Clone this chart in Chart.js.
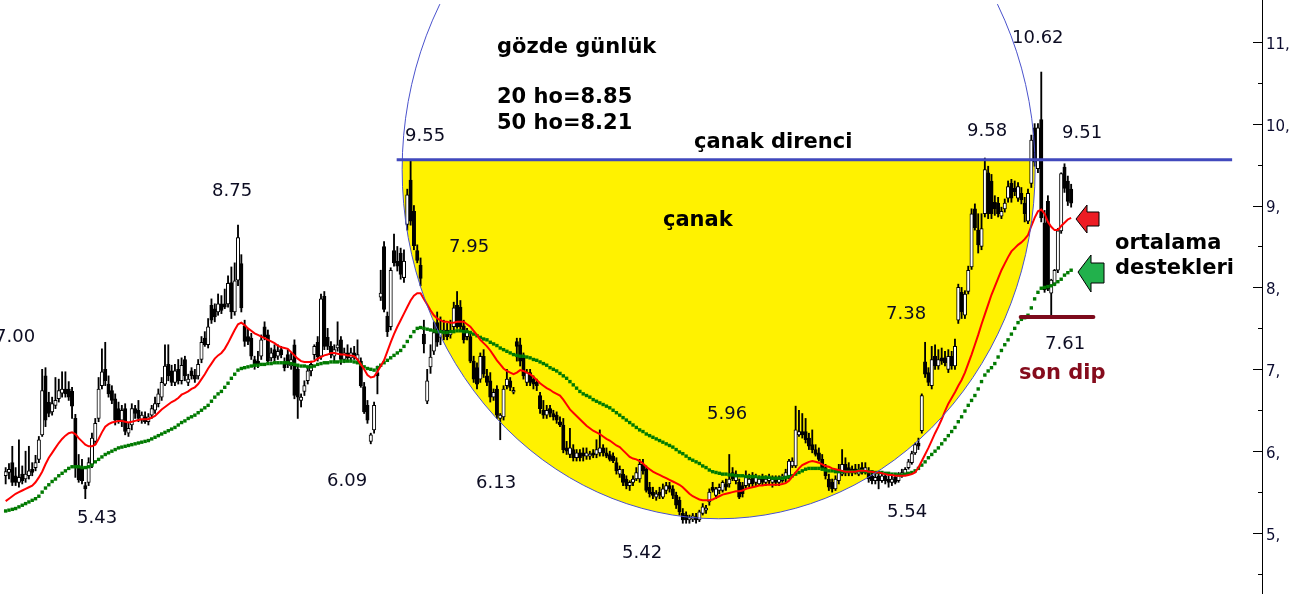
<!DOCTYPE html>
<html>
<head>
<meta charset="utf-8">
<title>gözde günlük</title>
<script src="https://cdn.jsdelivr.net/npm/chart.js"></script>
<style>
   html, body { margin: 0; padding: 0; background: #fff; overflow: hidden; }
   canvas { display: block; }
</style>
</head>
<body>
<canvas id="chart" width="1316" height="594"></canvas>
<script>
/*jshint browser: true, esversion: 6*/
/* global Chart */
'use strict';

// daily candles (oldest first)
const opens = [
   5.70,5.74,5.86,5.70,5.62,5.72,5.66,5.70,5.78,5.80, 5.90,6.20,6.92,6.60,6.48,6.56,6.64,6.71,6.76,6.76,
   6.73,6.40,5.82,5.80,5.58,5.62,5.84,6.12,6.40,6.80, 7.00,6.82,6.74,6.64,6.52,6.38,6.52,6.22,6.32,6.52,
   6.50,6.38,6.42,6.36,6.44,6.50,6.58,6.66,6.82,7.06, 6.98,6.84,7.00,6.86,7.12,6.84,6.98,6.93,6.92,7.12,
   7.38,7.30,7.78,7.74,7.70,7.80,7.80,7.80,8.06,7.70, 8.09,8.29,7.53,7.40,7.38,7.12,7.10,7.16,7.52,7.42,
   7.14,7.24,7.16,7.24,7.09,7.18,7.04,7.30,7.00,6.62, 6.73,6.86,6.98,7.18,7.33,7.16,7.89,7.39,7.28,7.16,
   7.26,7.36,7.12,7.20,7.14,7.20,7.12,7.10,6.79,6.56, 6.12,6.26,6.96,7.88,8.50,7.65,7.52,8.45,8.32,8.42,
   8.12,8.77,9.31,8.93,8.45,8.27,7.43,6.61,7.03,7.22, 7.57,7.39,7.45,7.48,7.42,7.52,7.78,7.76,7.53,7.40,
   7.40,7.10,7.02,6.88,7.16,6.92,6.86,6.66,6.76,6.40, 6.42,6.80,6.86,6.72,7.34,7.30,7.14,6.84,6.96,6.88,
   6.84,6.68,6.50,6.44,6.52,6.46,6.44,6.36,6.32,6.04, 5.96,6.02,5.92,5.98,5.98,5.94,5.94,5.98,5.96,5.98,
   6.04,5.98,5.96,5.94,5.86,5.72,5.72,5.66,5.58,5.62, 5.66,5.66,5.84,5.78,5.56,5.50,5.44,5.50,5.44,5.52,
   5.58,5.54,5.46,5.40,5.24,5.22,5.16,5.17,5.20,5.16, 5.24,5.28,5.38,5.56,5.46,5.52,5.52,5.60,5.60,5.74,
   5.64,5.62,5.58,5.58,5.60,5.68,5.62,5.60,5.68,5.62, 5.64,5.62,5.68,5.62,5.64,5.66,5.70,5.82,5.82,6.20,
   6.24,6.24,6.16,6.08,6.02,5.98,5.90,5.80,5.66,5.62, 5.54,5.64,5.72,5.84,5.80,5.74,5.78,5.72,5.80,5.74,
   5.76,5.70,5.64,5.70,5.64,5.70,5.66,5.62,5.68,5.64, 5.70,5.72,5.80,5.86,5.98,6.10,6.25,7.09,6.96,6.80,
   7.16,7.04,7.14,7.14,7.00,7.16,7.04,7.60,7.94,7.66, 7.95,8.25,8.96,8.70,8.50,8.90,9.40,9.30,9.04,9.03,
   8.87,8.96,9.09,9.27,9.21,9.09,9.15,9.03,8.81,9.27, 9.95,9.45,10.05,8.79,9.05,7.93,8.05,8.21,8.69,9.47,
   9.30,9.20
];
const highs = [
   5.80,5.85,6.06,5.80,6.14,5.82,6.00,6.06,5.86,5.95, 6.18,7.00,7.02,6.72,6.66,6.90,6.88,6.97,6.97,6.85,
   6.78,6.45,5.96,5.90,5.62,5.92,6.22,6.40,6.90,7.25, 7.33,6.92,6.80,6.70,6.60,6.56,6.58,6.34,6.58,6.56,
   6.62,6.48,6.48,6.46,6.56,6.66,6.76,6.90,7.30,7.30, 7.05,7.06,7.12,7.14,7.16,6.94,7.02,7.00,7.12,7.40,
   7.46,7.62,7.86,7.80,7.92,7.90,7.98,8.14,8.25,8.30, 8.76,8.40,7.60,7.50,7.44,7.16,7.22,7.42,7.58,7.48,
   7.26,7.30,7.30,7.28,7.14,7.24,7.20,7.36,7.06,6.70, 6.86,7.02,7.10,7.30,7.40,7.92,7.95,7.50,7.34,7.30,
   7.58,7.40,7.26,7.30,7.26,7.28,7.36,7.14,6.84,6.62, 6.22,6.60,7.04,8.21,8.56,7.70,8.24,8.65,8.50,8.48,
   8.46,9.20,9.55,9.00,8.52,8.36,7.60,7.00,7.30,7.58, 7.70,7.64,7.60,7.56,7.60,7.82,7.95,7.84,7.60,7.50,
   7.44,7.16,7.08,7.20,7.24,7.00,6.96,6.76,6.80,6.46, 6.80,7.00,6.90,6.78,7.38,7.38,7.20,7.00,7.00,6.92,
   6.88,6.72,6.62,6.56,6.56,6.50,6.48,6.42,6.40,6.12, 6.28,6.08,6.02,6.02,6.04,6.04,6.00,6.02,6.14,6.26,
   6.08,6.04,6.00,5.98,5.92,5.82,5.78,5.70,5.64,5.70, 5.80,5.90,5.90,5.82,5.62,5.56,5.52,5.56,5.60,5.62,
   5.62,5.58,5.50,5.44,5.30,5.26,5.22,5.24,5.24,5.28, 5.36,5.34,5.54,5.62,5.56,5.60,5.64,5.66,5.96,5.80,
   5.76,5.66,5.62,5.76,5.72,5.74,5.72,5.70,5.72,5.70, 5.72,5.70,5.70,5.70,5.72,5.78,5.90,5.92,6.55,6.50,
   6.46,6.40,6.22,6.26,6.08,6.04,5.96,5.84,5.72,5.66, 5.70,5.84,6.02,5.92,5.86,5.82,5.84,5.84,5.86,5.86,
   5.80,5.74,5.72,5.72,5.72,5.72,5.70,5.70,5.70,5.74, 5.78,5.80,5.90,6.00,6.10,6.16,6.70,7.33,7.02,7.28,
   7.30,7.24,7.26,7.22,7.24,7.22,7.37,8.04,8.00,7.96, 8.26,8.96,9.02,8.90,8.90,9.58,9.48,9.38,9.12,9.10,
   8.98,9.08,9.30,9.32,9.30,9.28,9.22,9.10,9.20,9.86, 10.00,10.00,10.63,8.94,9.12,8.10,8.22,8.72,9.40,9.51,
   9.36,9.26
];
const lows = [
   5.60,5.66,5.58,5.58,5.56,5.60,5.62,5.66,5.70,5.76, 5.86,6.18,6.30,6.42,6.44,6.52,6.60,6.66,6.66,6.62,
   6.40,5.68,5.62,5.60,5.42,5.58,5.80,6.08,6.36,6.76, 6.80,6.66,6.58,6.32,6.34,6.30,6.20,6.18,6.26,6.40,
   6.36,6.34,6.34,6.32,6.40,6.46,6.54,6.62,6.80,6.86, 6.80,6.80,6.82,6.82,6.86,6.80,6.88,6.84,6.88,7.08,
   7.28,7.26,7.56,7.58,7.66,7.68,7.74,7.76,7.62,7.66, 8.02,7.70,7.28,7.30,7.12,7.00,7.02,7.12,7.36,7.06,
   7.10,7.10,7.12,7.14,6.98,7.02,7.00,6.64,6.40,6.54, 6.68,6.82,6.92,7.12,7.10,7.12,7.24,7.24,7.14,7.10,
   7.22,7.06,7.08,7.10,7.10,7.12,7.08,6.78,6.46,6.34, 6.09,6.22,6.70,7.84,7.70,7.40,7.48,8.26,8.20,8.10,
   8.06,8.70,8.76,8.46,8.30,8.02,7.20,6.58,6.95,7.18, 7.28,7.30,7.36,7.36,7.38,7.48,7.50,7.48,7.32,7.36,
   7.08,6.84,6.76,6.84,6.90,6.80,6.60,6.62,6.40,6.14, 6.38,6.76,6.74,6.70,7.10,7.04,6.88,6.80,6.80,6.76,
   6.74,6.46,6.40,6.40,6.42,6.38,6.34,6.30,5.98,5.96, 5.92,5.88,5.88,5.88,5.88,5.90,5.90,5.92,5.92,5.94,
   5.94,5.92,5.88,5.86,5.72,5.68,5.58,5.54,5.52,5.58, 5.64,5.62,5.72,5.50,5.44,5.42,5.40,5.42,5.42,5.48,
   5.50,5.42,5.30,5.22,5.12,5.12,5.12,5.14,5.12,5.14, 5.22,5.24,5.34,5.50,5.42,5.48,5.50,5.52,5.56,5.64,
   5.60,5.42,5.44,5.54,5.56,5.56,5.58,5.58,5.58,5.58, 5.60,5.56,5.58,5.58,5.62,5.62,5.66,5.80,5.80,6.18,
   6.16,6.10,6.02,5.98,5.94,5.88,5.78,5.66,5.52,5.50, 5.52,5.60,5.70,5.70,5.70,5.70,5.72,5.70,5.72,5.72,
   5.62,5.60,5.60,5.54,5.62,5.60,5.56,5.58,5.60,5.62, 5.68,5.70,5.78,5.84,5.96,6.02,6.22,6.90,6.80,6.76,
   7.00,7.00,7.06,7.04,6.96,7.00,7.00,7.56,7.62,7.62, 7.92,8.22,8.70,8.42,8.46,8.86,8.84,8.84,8.88,8.86,
   8.84,8.92,9.04,9.04,9.12,9.05,9.02,8.80,8.78,9.22, 9.48,9.40,8.80,7.94,7.96,7.65,8.02,8.18,8.66,9.16,
   9.00,8.98
];
const closes = [
   5.75,5.78,5.62,5.62,5.68,5.64,5.72,5.76,5.74,5.86, 6.14,6.74,6.38,6.46,6.58,6.62,6.74,6.76,6.70,6.66,
   6.55,5.80,5.65,5.64,5.54,5.86,6.16,6.34,6.76,6.97, 6.86,6.70,6.62,6.38,6.38,6.50,6.24,6.28,6.52,6.46,
   6.40,6.44,6.36,6.42,6.52,6.58,6.70,6.84,7.04,6.92, 6.84,6.98,6.86,7.05,6.92,6.88,6.92,6.88,7.06,7.33,
   7.30,7.52,7.60,7.64,7.80,7.72,7.76,8.05,7.70,8.08, 8.61,7.75,7.34,7.34,7.16,7.05,7.06,7.36,7.40,7.10,
   7.20,7.14,7.22,7.18,7.02,7.06,7.12,6.68,6.66,6.66, 6.80,6.98,7.06,7.28,7.15,7.86,7.28,7.28,7.18,7.24,
   7.30,7.12,7.20,7.14,7.20,7.16,7.18,6.80,6.48,6.38, 6.20,6.56,6.92,7.93,7.73,7.46,8.21,8.30,8.26,8.16,
   8.32,9.13,8.81,8.51,8.33,8.11,7.31,6.86,7.15,7.45, 7.33,7.48,7.48,7.40,7.46,7.75,7.52,7.52,7.36,7.46,
   7.10,6.88,6.82,7.16,6.94,6.84,6.66,6.72,6.44,6.44, 6.76,6.88,6.78,6.74,7.28,7.10,6.92,6.96,6.84,6.82,
   6.80,6.52,6.44,6.50,6.46,6.42,6.38,6.32,6.02,6.00, 6.04,5.92,5.98,5.92,5.94,5.98,5.96,5.95,6.02,6.04,
   5.98,5.94,5.90,5.88,5.76,5.78,5.62,5.58,5.62,5.66, 5.74,5.84,5.76,5.52,5.48,5.46,5.48,5.46,5.54,5.58,
   5.54,5.46,5.34,5.26,5.16,5.16,5.19,5.21,5.16,5.26, 5.32,5.30,5.50,5.52,5.54,5.56,5.62,5.56,5.66,5.66,
   5.72,5.44,5.48,5.70,5.66,5.60,5.68,5.66,5.62,5.66, 5.68,5.66,5.62,5.66,5.70,5.74,5.88,5.88,6.26,6.24,
   6.20,6.14,6.06,6.02,5.96,5.90,5.80,5.70,5.56,5.54, 5.66,5.78,5.84,5.74,5.74,5.78,5.76,5.78,5.74,5.80,
   5.66,5.64,5.68,5.64,5.70,5.64,5.62,5.66,5.62,5.72, 5.74,5.78,5.87,5.97,6.08,6.06,6.68,6.94,6.84,7.12,
   7.04,7.12,7.10,7.08,7.16,7.04,7.28,8.00,7.70,7.92, 8.21,8.90,8.73,8.52,8.72,9.44,8.90,8.90,8.96,8.90,
   8.93,9.03,9.23,9.09,9.17,9.23,9.07,8.90,9.15,9.80, 9.53,9.95,8.85,7.97,7.98,8.09,8.21,8.69,9.39,9.21,
   9.05,9.03
];

// 20 and 50 day moving averages (ho = hareketli ortalama)
const ma20 = [
   5.39,5.42,5.45,5.48,5.50,5.52,5.54,5.56,5.58,5.62, 5.68,5.75,5.84,5.92,5.98,6.04,6.10,6.15,6.19,6.22,
   6.23,6.21,6.16,6.12,6.08,6.06,6.06,6.08,6.15,6.23, 6.30,6.33,6.35,6.36,6.37,6.37,6.36,6.35,6.36,6.37,
   6.38,6.39,6.39,6.39,6.41,6.43,6.47,6.51,6.54,6.57, 6.60,6.62,6.65,6.69,6.71,6.73,6.76,6.78,6.82,6.88,
   6.94,7.01,7.07,7.13,7.17,7.20,7.25,7.32,7.40,7.48, 7.55,7.57,7.54,7.50,7.47,7.44,7.42,7.40,7.38,7.36,
   7.34,7.32,7.29,7.27,7.26,7.25,7.21,7.17,7.13,7.10, 7.09,7.09,7.09,7.10,7.13,7.15,7.17,7.18,7.20,7.20,
   7.19,7.18,7.18,7.17,7.17,7.16,7.12,7.06,7.00,6.93, 6.90,6.91,6.97,7.04,7.11,7.22,7.33,7.43,7.52,7.60,
   7.68,7.76,7.84,7.90,7.93,7.93,7.86,7.79,7.72,7.66, 7.62,7.60,7.58,7.58,7.57,7.57,7.58,7.58,7.58,7.55,
   7.52,7.47,7.42,7.36,7.32,7.28,7.23,7.17,7.11,7.06, 7.01,6.98,6.96,6.94,6.96,6.99,6.98,6.96,6.94,6.91,
   6.87,6.83,6.80,6.77,6.75,6.72,6.70,6.68,6.63,6.57, 6.51,6.47,6.43,6.39,6.35,6.31,6.28,6.25,6.23,6.21,
   6.18,6.15,6.13,6.10,6.07,6.05,6.01,5.97,5.93,5.91, 5.90,5.88,5.85,5.81,5.78,5.75,5.73,5.71,5.69,5.67,
   5.65,5.63,5.61,5.59,5.56,5.52,5.48,5.45,5.43,5.41, 5.40,5.40,5.40,5.41,5.43,5.45,5.47,5.48,5.49,5.50,
   5.51,5.51,5.52,5.54,5.55,5.56,5.57,5.58,5.58,5.59, 5.59,5.59,5.59,5.59,5.60,5.61,5.64,5.69,5.74,5.79,
   5.83,5.85,5.87,5.88,5.87,5.86,5.84,5.82,5.81,5.79, 5.78,5.77,5.76,5.75,5.75,5.75,5.75,5.76,5.76,5.76,
   5.75,5.75,5.74,5.74,5.73,5.72,5.71,5.71,5.70,5.70, 5.70,5.70,5.71,5.72,5.74,5.80,5.88,5.96,6.04,6.13,
   6.22,6.30,6.39,6.49,6.58,6.65,6.72,6.80,6.87,6.96, 7.07,7.18,7.30,7.42,7.55,7.67,7.79,7.91,8.01,8.11,
   8.21,8.29,8.37,8.44,8.48,8.52,8.55,8.59,8.64,8.75, 8.85,8.93,8.95,8.90,8.80,8.74,8.70,8.70,8.75,8.79,
   8.83,8.85
];
const ma50 = [
   5.27,5.28,5.29,5.30,5.32,5.34,5.36,5.38,5.40,5.42, 5.45,5.50,5.55,5.59,5.63,5.66,5.70,5.73,5.76,5.79,
   5.81,5.81,5.81,5.80,5.80,5.81,5.83,5.87,5.90,5.93, 5.96,5.98,6.00,6.02,6.04,6.05,6.06,6.07,6.08,6.09,
   6.10,6.11,6.12,6.13,6.15,6.17,6.19,6.21,6.23,6.25, 6.27,6.29,6.32,6.35,6.37,6.40,6.42,6.44,6.47,6.50,
   6.53,6.56,6.61,6.66,6.70,6.73,6.78,6.83,6.89,6.94, 6.99,7.01,7.02,7.03,7.04,7.05,7.05,7.06,7.06,7.07,
   7.07,7.08,7.08,7.08,7.08,7.08,7.07,7.06,7.05,7.04, 7.04,7.03,7.03,7.04,7.06,7.07,7.08,7.08,7.09,7.09,
   7.09,7.10,7.10,7.10,7.10,7.09,7.08,7.06,7.03,7.01, 7.00,6.99,7.02,7.05,7.08,7.11,7.14,7.17,7.20,7.23,
   7.28,7.34,7.40,7.46,7.50,7.51,7.50,7.49,7.48,7.47, 7.46,7.46,7.45,7.45,7.46,7.46,7.47,7.47,7.46,7.46,
   7.45,7.43,7.41,7.39,7.37,7.36,7.33,7.31,7.29,7.26, 7.24,7.22,7.20,7.18,7.17,7.16,7.16,7.15,7.14,7.12,
   7.11,7.09,7.07,7.05,7.02,7.00,6.98,6.95,6.92,6.89, 6.85,6.81,6.77,6.73,6.70,6.68,6.66,6.63,6.61,6.59,
   6.57,6.55,6.53,6.50,6.47,6.44,6.41,6.38,6.35,6.32, 6.29,6.26,6.24,6.21,6.19,6.17,6.15,6.13,6.11,6.09,
   6.07,6.05,6.02,5.99,5.97,5.94,5.91,5.89,5.87,5.85, 5.82,5.80,5.77,5.75,5.74,5.73,5.72,5.72,5.71,5.71,
   5.70,5.70,5.70,5.69,5.69,5.69,5.69,5.68,5.68,5.68, 5.68,5.67,5.67,5.67,5.67,5.68,5.69,5.70,5.72,5.74,
   5.76,5.78,5.79,5.79,5.79,5.79,5.78,5.77,5.76,5.76, 5.75,5.75,5.75,5.75,5.75,5.75,5.75,5.76,5.76,5.75,
   5.75,5.75,5.74,5.74,5.74,5.73,5.73,5.72,5.72,5.71, 5.71,5.72,5.73,5.74,5.76,5.79,5.83,5.87,5.92,5.96,
   6.00,6.04,6.09,6.14,6.19,6.24,6.29,6.36,6.42,6.49, 6.56,6.62,6.68,6.76,6.85,6.93,6.98,7.02,7.07,7.15,
   7.23,7.30,7.36,7.43,7.50,7.57,7.61,7.63,7.66,7.75, 7.86,7.94,7.99,8.00,8.01,8.02,8.04,8.07,8.10,8.15,
   8.18,8.21
];

// the x axis runs past the last candle, empty days on the right
const dayCount = 379;
const days = Array.from({length: dayCount}, (_, k) => String(k));

// price axis limits and tick step
const priceMin = 4.305;
const priceMax = 11.461;
const priceStep = 0.5;

// drawn shapes, in days and prices
const bowl = {day: 214.8, price: 9.44, halfDays: 95.35, halfPrice: 4.265};
const resistance = {price: 9.56, from: 117.8, to: 369.5};
const lastDip = {price: 7.64, from: 305.8, to: 327.7};

// notes written on the picture
const priceNotes = [
   ['7.00', -5, 342], ['8.75', 212, 196], ['5.43', 77, 523], ['6.09', 327, 486],
   ['9.55', 405, 141], ['7.95', 449, 252], ['6.13', 476, 488], ['5.42', 622, 558],
   ['5.96', 707, 419], ['5.54', 887, 517], ['7.38', 886, 319], ['9.58', 967, 136],
   ['10.62', 1012, 43], ['9.51', 1062, 138], ['7.61', 1045, 349]
];
const boldNotes = [
   ['gözde günlük', 497, 53, '#000'], ['20 ho=8.85', 497, 103, '#000'],
   ['50 ho=8.21', 497, 129, '#000'], ['çanak direnci', 694, 148, '#000'],
   ['çanak', 663, 226, '#000'], ['ortalama', 1115, 249, '#000'],
   ['destekleri', 1115, 274, '#000'], ['son dip', 1019, 379, '#850b1c']
];
const arrows = [
   {color: '#ed1c24', pts: [[1076, 219], [1087, 205], [1087, 212], [1099, 212], [1099, 226], [1087, 226], [1087, 233]]},
   {color: '#22b14c', pts: [[1078, 272], [1091, 255], [1091, 263], [1104, 263], [1104, 283], [1091, 283], [1091, 292]]}
];

const wicks = lows.map((l, k) => [l, highs[k]]);
const bodies = opens.map((o, k) => [o, closes[k]]);
const bodyColors = opens.map((o, k) => closes[k] >= o ? '#ffffff' : '#000000');

//Yellow bowl, blue circle, lines, notes and the price axis
const overlay = {
   id: 'overlay',
   beforeDatasetsDraw(chart) {
      const {ctx, chartArea: area, scales: {x, y}} = chart;
      const dayPx = x.getPixelForValue(1) - x.getPixelForValue(0);
      const lineY = y.getPixelForValue(resistance.price);
      ctx.save();
      ctx.beginPath();
      ctx.rect(area.left, lineY, area.right - area.left, area.bottom - lineY);
      ctx.clip();
      ctx.beginPath();
      ctx.ellipse(x.getPixelForValue(bowl.day), y.getPixelForValue(bowl.price),
         bowl.halfDays * dayPx, bowl.halfPrice * (y.getPixelForValue(0) - y.getPixelForValue(1)), 0, 0, Math.PI * 2);
      ctx.fillStyle = '#fff200';
      ctx.fill();
      ctx.restore();
   },
   afterDatasetsDraw(chart) {
      const {ctx, chartArea: area, scales: {x, y}} = chart;
      const dayPx = x.getPixelForValue(1) - x.getPixelForValue(0);
      ctx.save();
      ctx.beginPath();
      ctx.rect(area.left, area.top, area.right - area.left, area.bottom - area.top);
      ctx.clip();
      //Circle round the bowl
      ctx.beginPath();
      ctx.ellipse(x.getPixelForValue(bowl.day), y.getPixelForValue(bowl.price),
         bowl.halfDays * dayPx, bowl.halfPrice * (y.getPixelForValue(0) - y.getPixelForValue(1)), 0, 0, Math.PI * 2);
      ctx.strokeStyle = '#4a52cc';
      ctx.lineWidth = 1;
      ctx.stroke();
      //Bowl resistance
      const ry = y.getPixelForValue(resistance.price);
      ctx.beginPath();
      ctx.moveTo(x.getPixelForValue(resistance.from), ry);
      ctx.lineTo(x.getPixelForValue(resistance.to), ry);
      ctx.strokeStyle = '#4149bd';
      ctx.lineWidth = 3;
      ctx.stroke();
      //Last dip
      const dy = y.getPixelForValue(lastDip.price);
      ctx.beginPath();
      ctx.moveTo(x.getPixelForValue(lastDip.from), dy);
      ctx.lineTo(x.getPixelForValue(lastDip.to), dy);
      ctx.strokeStyle = '#7d0a1c';
      ctx.lineWidth = 4;
      ctx.lineCap = 'round';
      ctx.stroke();
      ctx.restore();
   },
   afterDraw(chart) {
      const {ctx, chartArea: area, scales: {y}} = chart;
      ctx.save();
      //Axis line with long and short ticks on the left side
      ctx.beginPath();
      ctx.moveTo(area.right + 0.5, 0);
      ctx.lineTo(area.right + 0.5, chart.height);
      y.ticks.forEach(t => {
         const py = Math.round(y.getPixelForValue(t.value)) + 0.5;
         const len = Number.isInteger(t.value) ? 9 : 4;
         ctx.moveTo(area.right - len, py);
         ctx.lineTo(area.right + 1, py);
      });
      ctx.strokeStyle = '#000';
      ctx.lineWidth = 1;
      ctx.stroke();

      ctx.textAlign = 'left';
      ctx.textBaseline = 'alphabetic';
      ctx.font = '18px "DejaVu Sans"';
      ctx.fillStyle = '#0c0c22';
      priceNotes.forEach(n => ctx.fillText(n[0], n[1], n[2]));
      ctx.font = 'bold 21px "DejaVu Sans"';
      boldNotes.forEach(n => {
         ctx.fillStyle = n[3];
         ctx.fillText(n[0], n[1], n[2]);
      });

      arrows.forEach(a => {
         ctx.beginPath();
         a.pts.forEach((p, k) => k ? ctx.lineTo(p[0], p[1]) : ctx.moveTo(p[0], p[1]));
         ctx.closePath();
         ctx.fillStyle = a.color;
         ctx.fill();
         ctx.strokeStyle = '#000';
         ctx.lineWidth = 1;
         ctx.stroke();
      });
      ctx.restore();
   }
};

const chart = new Chart(document.getElementById('chart'), {
   type: 'bar',
   data: {
      labels: days,
      datasets: [{
         type: 'line',
         label: '20 ho',
         data: ma20,
         borderColor: '#ff0000',
         borderWidth: 2,
         pointRadius: 0,
         tension: 0,
         order: 0
      }, {
         type: 'line',
         label: '50 ho',
         data: ma50,
         showLine: false,
         pointStyle: 'rect',
         pointRadius: 2.4,
         pointBorderWidth: 0,
         pointBackgroundColor: '#007a00',
         pointBorderColor: '#007a00',
         order: 1
      }, {
         label: 'gövde',
         data: bodies,
         backgroundColor: bodyColors,
         borderColor: '#000',
         borderWidth: 1,
         borderSkipped: false,
         barThickness: 3.4,
         minBarLength: 2,
         grouped: false,
         order: 2
      }, {
         label: 'fitil',
         data: wicks,
         backgroundColor: '#000',
         barThickness: 1.2,
         grouped: false,
         order: 3
      }]
   },
   options: {
      responsive: false,
      animation: false,
      devicePixelRatio: 1,
      events: [],
      layout: {padding: 0},
      plugins: {
         legend: {display: false},
         tooltip: {enabled: false}
      },
      scales: {
         x: {
            type: 'category',
            display: false,
            offset: true
         },
         y: {
            position: 'right',
            min: priceMin,
            max: priceMax,
            beginAtZero: false,
            grid: {display: false, drawTicks: false},
            border: {display: false},
            ticks: {
               stepSize: priceStep,
               maxTicksLimit: 40,
               includeBounds: false,
               autoSkip: false,
               padding: 4,
               labelOffset: 3,
               color: '#0c0c30',
               font: {family: 'DejaVu Sans', size: 15},
               callback: v => Number.isInteger(v) ? v + ',' : ''
            },
            afterFit: s => {
               s.width = 54;
               s.paddingTop = 0;
               s.paddingBottom = 0;
            }
         }
      }
   },
   plugins: [overlay]
});
</script>
</body>
</html>
